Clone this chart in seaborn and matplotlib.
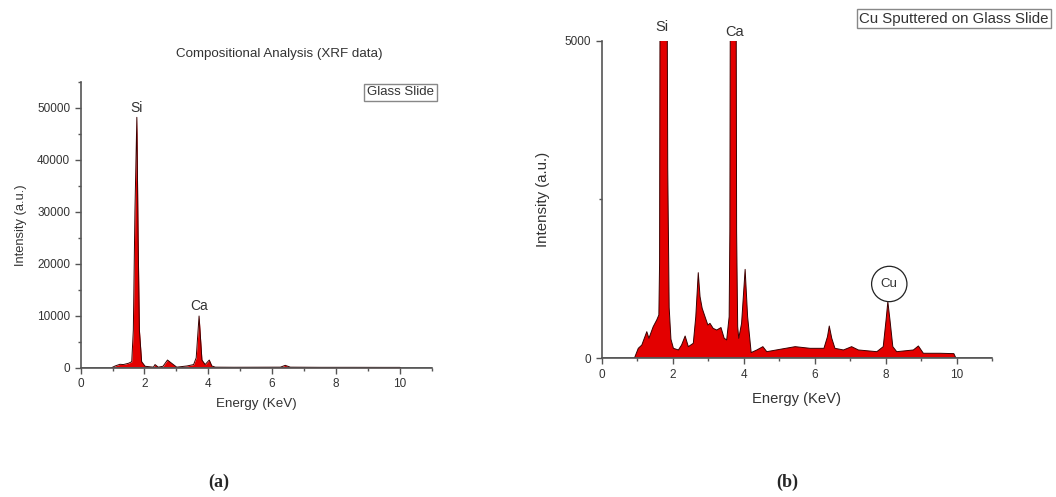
import matplotlib
matplotlib.use("Agg")
import matplotlib.pyplot as plt
import seaborn as sns
import pandas as pd
from matplotlib.ticker import MultipleLocator

# ---------------- data ----------------
# (a) Glass slide spectrum
glass_energy = [0.97, 1.08, 1.23, 1.34, 1.50, 1.60, 1.65, 1.70, 1.76, 1.80, 1.84, 1.91,
                2.02, 2.28, 2.33, 2.43, 2.58, 2.72, 2.85, 3.01, 3.33, 3.54, 3.62,
                3.71, 3.80, 3.90, 4.03, 4.11, 4.22, 4.80, 5.50, 6.26, 6.41, 6.57,
                7.50, 8.50, 9.50, 10.00, 10.02]
glass_intensity = [0, 330, 650, 600, 850, 1150, 7250, 30000, 48150, 25000, 7250, 1150,
                   270, 100, 600, 100, 270, 1470, 850, 100, 330, 600, 1900,
                   9940, 1470, 600, 1470, 330, 100, 80, 90, 100, 450, 100,
                   70, 70, 60, 60, 0]

# (b) Cu sputtered on glass slide spectrum (Si and Ca go off scale)
cu_energy = [0.92, 1.03, 1.13, 1.27, 1.33, 1.45, 1.55, 1.61, 1.63, 1.65, 1.74, 1.83,
             1.86, 1.90, 1.95, 2.02, 2.16, 2.25, 2.35, 2.44, 2.58, 2.65, 2.72, 2.77,
             2.83, 2.91, 2.99, 3.05, 3.14, 3.24, 3.36, 3.45, 3.52, 3.59, 3.61, 3.63,
             3.71, 3.78, 3.80, 3.83, 3.86, 3.94, 4.04, 4.11, 4.21, 4.37, 4.54, 4.65,
             5.02, 5.45, 5.87, 6.26, 6.36, 6.41, 6.48, 6.57, 6.81, 7.04, 7.23, 7.75,
             7.93, 8.01, 8.06, 8.12, 8.20, 8.31, 8.78, 8.92, 9.06, 9.53, 9.92, 9.98]
cu_intensity = [0, 157, 209, 419, 315, 497, 603, 682, 1500, 8000, 30000, 8000,
                3000, 800, 300, 157, 131, 209, 351, 183, 236, 655, 1348, 970,
                787, 655, 524, 550, 471, 445, 484, 315, 289, 655, 2000, 8000,
                30000, 8000, 2000, 500, 315, 550, 1400, 655, 90, 131, 183, 104,
                141, 183, 157, 157, 341, 508, 315, 157, 131, 183, 131, 104,
                183, 603, 891, 603, 183, 104, 131, 194, 79, 79, 73, 0]

panel_titles = ["Glass Slide", "Cu Sputtered on Glass Slide"]
peak_labels_a = {"Si": (1.76, 49880), "Ca": (3.71, 11865)}
peak_labels_b = {"Si": (1.69, 5210), "Ca": (3.74, 5141)}

# ---------------- style ----------------
sns.set_style("ticks")
plt.rcParams["font.family"] = ["Liberation Sans", "DejaVu Sans"]

fill_c = "#e30000"
line_c = "#3a0000"
axis_c = "#555555"
text_c = "#333333"

fig = plt.figure(figsize=(10.56, 4.97), dpi=100)
ax1 = fig.add_axes([0.0764, 0.2602, 0.3324, 0.5754])
ax2 = fig.add_axes([0.5698, 0.2791, 0.3698, 0.6390])


def draw(ax, e, i):
    df = pd.DataFrame({"Energy": e, "Intensity": i})
    ax.fill_between(df["Energy"], df["Intensity"], 0, color=fill_c, lw=0, zorder=2)
    sns.lineplot(data=df, x="Energy", y="Intensity", ax=ax, color=line_c,
                 lw=0.7, estimator=None, sort=False, zorder=3)
    ax.axhline(0, color=axis_c, lw=1.2, zorder=4)
    for s in ["top", "right"]:
        ax.spines[s].set_visible(False)
    for s in ["left", "bottom"]:
        ax.spines[s].set_color(axis_c)
        ax.spines[s].set_linewidth(1.2)
    ax.tick_params(axis="both", which="major", length=4, width=1, color=axis_c,
                   labelcolor=text_c, labelsize=8.5, direction="out")
    ax.tick_params(axis="both", which="minor", length=2.5, width=1, color=axis_c,
                   direction="out")
    ax.set_xlim(0, 11)
    ax.xaxis.set_major_locator(MultipleLocator(2))
    ax.xaxis.set_minor_locator(MultipleLocator(1))


draw(ax1, glass_energy, glass_intensity)
ax1.set_ylim(0, 55000)
ax1.yaxis.set_major_locator(MultipleLocator(10000))
ax1.yaxis.set_minor_locator(MultipleLocator(5000))
ax1.set_xlabel("Energy (KeV)", fontsize=9.6, color=text_c, labelpad=6)
ax1.set_ylabel("Intensity (a.u.)", fontsize=9.3, color=text_c, labelpad=7)
for k, (x, y) in peak_labels_a.items():
    ax1.text(x, y, k, ha="center", va="center", fontsize=10, color=text_c)

draw(ax2, cu_energy, cu_intensity)
ax2.set_ylim(0, 5000)
ax2.set_yticks([0, 5000])
ax2.yaxis.set_minor_locator(MultipleLocator(2500))
ax2.set_xlabel("Energy (KeV)", fontsize=10.6, color=text_c, labelpad=8)
ax2.set_ylabel("Intensity (a.u.)", fontsize=10.8, color=text_c, labelpad=11)
for k, (x, y) in peak_labels_b.items():
    ax2.text(x, y, k, ha="center", va="center", fontsize=10.5, color=text_c,
             clip_on=False)
ax2.text(8.1, 1170, "Cu", ha="center", va="center", fontsize=9.5, color=text_c,
         bbox=dict(boxstyle="circle,pad=0.7", fc="white", ec="#222222", lw=0.9),
         zorder=5)

# titles / boxes
fig.text(279 / 1056, 1 - 54 / 497, "Compositional Analysis (XRF data)",
         ha="center", va="center", fontsize=9.6, color=text_c)
fig.text(400.5 / 1056, 1 - 92.5 / 497, panel_titles[0], ha="center", va="center",
         fontsize=9.5, color=text_c,
         bbox=dict(boxstyle="square,pad=0.2", fc="white", ec="#888888", lw=1))
fig.text(953.5 / 1056, 1 - 18.7 / 497, panel_titles[1], ha="center", va="center",
         fontsize=10.8, color=text_c,
         bbox=dict(boxstyle="square,pad=0.15", fc="white", ec="#888888", lw=1))

fig.text(219 / 1056, 1 - 482 / 497, "(a)", ha="center", va="center", fontsize=13,
         fontweight="bold", family=["Liberation Serif", "DejaVu Serif"])
fig.text(787 / 1056, 1 - 482 / 497, "(b)", ha="center", va="center", fontsize=13,
         fontweight="bold", family=["Liberation Serif", "DejaVu Serif"])

fig.savefig("out.png", dpi=100, facecolor="white")
